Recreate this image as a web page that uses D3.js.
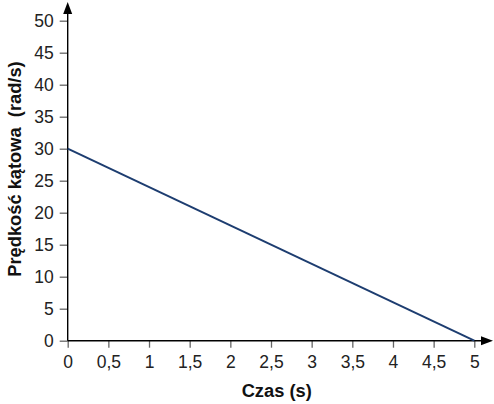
<!DOCTYPE html>
<html><head><meta charset="utf-8">
<script src="https://cdn.jsdelivr.net/npm/d3@7"></script>
<style>html,body{margin:0;padding:0;background:#fff;}svg{display:block;font-family:"Liberation Sans",Arial,sans-serif;}</style>
</head><body>
<script>
const xTicks = [0, 0.5, 1, 1.5, 2, 2.5, 3, 3.5, 4, 4.5, 5];
const yTicks = [0, 5, 10, 15, 20, 25, 30, 35, 40, 45, 50];
const timeS = [0, 5];
const omega = [30, 0];
const xTitle = "Czas (s)";
const yTitle = "Prędkość kątowa  (rad/s)";

const W = 494, H = 404;
const svg = d3.select("body").append("svg").attr("width", W).attr("height", H);
const x = d3.scaleLinear().domain([0, 5]).range([67.7, 474.3]);
const y = d3.scaleLinear().domain([0, 50]).range([340.7, 20.7]);
const fmt = d => String(d).replace(".", ",");

// y axis ticks + labels
const ya = svg.append("g").attr("transform", `translate(${x(0)},0)`)
  .call(d3.axisLeft(y).tickValues(yTicks).tickFormat(fmt).tickSize(8).tickPadding(6));
ya.select(".domain").remove();
ya.selectAll(".tick line").attr("stroke", "#666").attr("stroke-width", 1.3);
ya.selectAll(".tick text").attr("font-size", 17.5).attr("fill", "#222").attr("font-family", "Liberation Sans, Arial, sans-serif");

// x axis ticks + labels
const xa = svg.append("g").attr("transform", `translate(0,${y(0)})`)
  .call(d3.axisBottom(x).tickValues(xTicks).tickFormat(fmt).tickSize(7).tickPadding(8));
xa.select(".domain").remove();
xa.selectAll(".tick line").attr("stroke", "#666").attr("stroke-width", 1.3);
xa.selectAll(".tick text").attr("font-size", 17.5).attr("fill", "#222").attr("font-family", "Liberation Sans, Arial, sans-serif");

// axis lines with arrows
svg.append("line").attr("x1", x(0)).attr("x2", 486).attr("y1", y(0)).attr("y2", y(0)).attr("stroke", "#000").attr("stroke-width", 1.4);
svg.append("line").attr("x1", x(0)).attr("x2", x(0)).attr("y1", y(0)).attr("y2", 10).attr("stroke", "#000").attr("stroke-width", 1.4);
svg.append("path").attr("d", `M493,${y(0)} L481,${y(0)-4.5} L481,${y(0)+4.5} Z`).attr("fill", "#000");
svg.append("path").attr("d", `M${x(0)},2 L${x(0)-4.5},14 L${x(0)+4.5},14 Z`).attr("fill", "#000");

// data line
const line = d3.line().x((d, i) => x(timeS[i])).y(d => y(d));
svg.append("path").datum(omega).attr("d", line).attr("fill", "none").attr("stroke", "#1d3d70").attr("stroke-width", 2);

// titles
svg.append("text").attr("x", 276.7).attr("y", 397).attr("text-anchor", "middle")
  .attr("font-size", 18.3).attr("font-weight", "bold").attr("fill", "#111").text(xTitle);
svg.append("text").attr("transform", "translate(21,169) rotate(-90)").attr("text-anchor", "middle")
  .attr("font-size", 18.3).attr("font-weight", "bold").attr("fill", "#111").style("white-space", "pre").text(yTitle);
</script>
</body></html>
